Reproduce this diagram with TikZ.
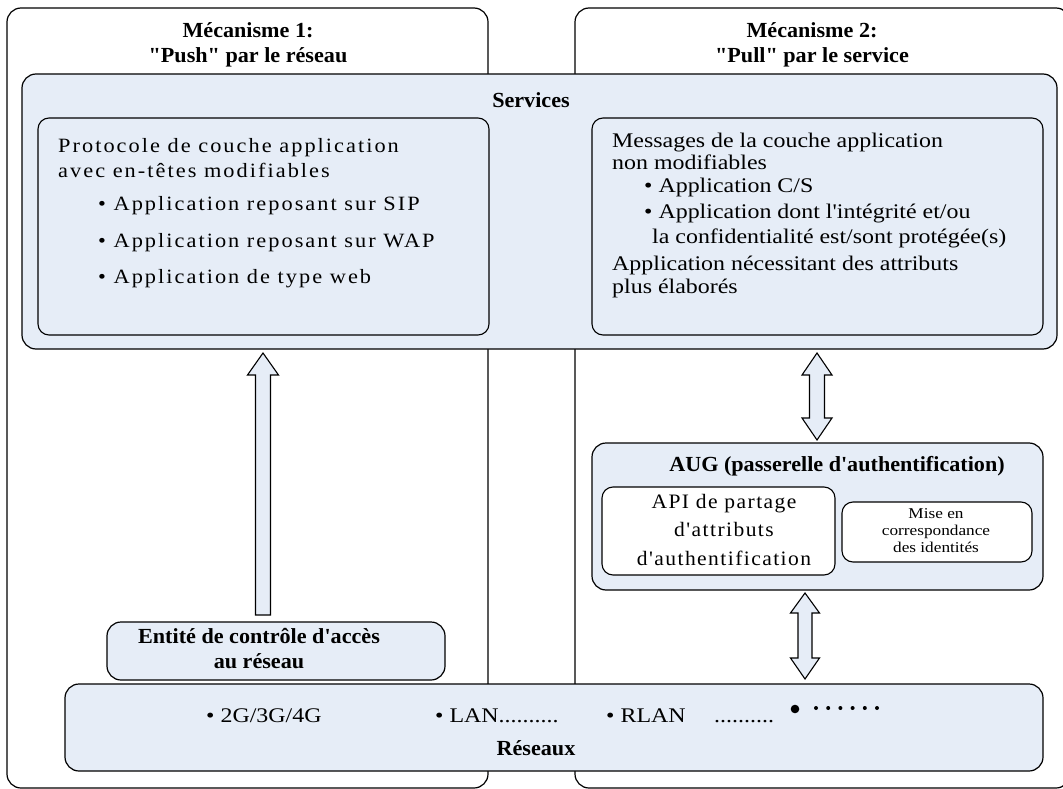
\documentclass[tikz,border=0pt]{standalone}
\usepackage{fontspec}
\newfontfamily\tnr{Liberation Serif}[FakeStretch=1.15]
\newfontfamily\tnrsp{Liberation Serif}[FakeStretch=1.1,LetterSpace=10]
\newfontfamily\tnrapi{Liberation Serif}[FakeStretch=1.05,LetterSpace=7]
\newfontfamily\tnrb{Liberation Serif}[FakeStretch=1.03]
\usetikzlibrary{calc}
\definecolor{lb}{HTML}{E6EDF7}
\begin{document}
\begin{tikzpicture}[x=1pt,y=-1pt,
  box/.style={draw=black, line width=1.2pt, rounded corners=14pt, inner sep=0pt},
  ibox/.style={draw=black, line width=1.1pt, rounded corners=11pt, inner sep=0pt},
  fatarrow/.style={draw=black, line width=1.1pt, fill=lb, line join=miter},
  body/.style={inner sep=0pt, anchor=base west, font=\fontsize{20.8}{24}\tnr},
  bodysp/.style={inner sep=0pt, anchor=base west, font=\fontsize{20.3}{24}\tnrsp},
  title/.style={inner sep=0pt, anchor=base, font=\fontsize{21.5}{24}\tnrb\bfseries},
  apitxt/.style={inner sep=0pt, anchor=base, font=\fontsize{20.5}{24}\tnrapi},
  misetxt/.style={inner sep=0pt, anchor=base, font=\fontsize{15}{17}\tnr},
]
\useasboundingbox (0,0) rectangle (1063,789);
% mechanism frames
\node[box, minimum width=481pt, minimum height=780pt] (mech1) at (247.5,398) {};
\node[box, minimum width=495pt, minimum height=780pt] (mech2) at (822.5,398) {};
\node[title] (m1a) at (248,38) {Mécanisme 1:};
\node[title] (m1b) at (248,63) {"Push" par le réseau};
\node[title] (m2a) at (812,38) {Mécanisme 2:};
\node[title] (m2b) at (812,63) {"Pull" par le service};
% services
\node[box, fill=lb, minimum width=1035pt, minimum height=275pt] (serv) at (539.5,211.5) {};
\node[title] (servt) at (531,108) {Services};
\node[ibox, fill=lb, minimum width=451pt, minimum height=217pt] (inL) at (263.5,226.5) {};
\node[ibox, fill=lb, minimum width=451pt, minimum height=217pt] (inR) at (817.5,226.5) {};
\node[bodysp] (l1) at (58,153) {Protocole de couche application};
\node[bodysp] (l2) at (58,178) {avec en-têtes modifiables};
\node[bodysp] (l3) at (98,210) {• Application reposant sur SIP};
\node[bodysp] (l4) at (98,247) {• Application reposant sur WAP};
\node[bodysp] (l5) at (98,283) {• Application de type web};
\node[body] (r1) at (612,147) {Messages de la couche application};
\node[body] (r2) at (612,169) {non modifiables};
\node[body] (r3) at (644,193) {• Application C/S};
\node[body] (r4) at (644,218) {• Application dont l'intégrité et/ou};
\node[body] (r5) at (652,243) {la confidentialité est/sont protégée(s)};
\node[body] (r6) at (612,270) {Application nécessitant des attributs};
\node[body] (r7) at (612,293) {plus élaborés};
% AUG
\node[box, fill=lb, minimum width=451pt, minimum height=147pt] (aug) at (817.5,516.5) {};
\node[title] (augt) at (837,471) {AUG (passerelle d'authentification)};
\node[ibox, fill=white, minimum width=233pt, minimum height=88pt] (api) at (718.5,531) {};
\node[apitxt] (api1) at (724,508) {API de partage};
\node[apitxt] (api2) at (724,536) {d'attributs};
\node[apitxt] (api3) at (724,565) {d'authentification};
\node[ibox, fill=white, minimum width=190pt, minimum height=60pt] (mise) at (937,532) {};
\node[misetxt] (mise1) at (936,518) {Mise en};
\node[misetxt] (mise2) at (936,535) {correspondance};
\node[misetxt] (mise3) at (936,552) {des identités};
% entity
\node[box, fill=lb, minimum width=338pt, minimum height=58pt] (ent) at (276,651) {};
\node[title] (ent1) at (259,643) {Entité de contrôle d'accès};
\node[title] (ent2) at (259,668) {au réseau};
% networks
\node[box, fill=lb, minimum width=978pt, minimum height=87pt] (res) at (554,727.5) {};
\node[body] (n1) at (206,722) {• 2G/3G/4G};
\node[body] (n2) at (435,722) {• LAN..........};
\node[body] (n3) at (606,722) {• RLAN};
\node[body] (n4) at (714,722) {..........};
\node[title] (rest) at (536,755) {Réseaux};
\fill (795,709) circle (4.3pt);
\foreach \i in {0,...,5} \fill (816+12.2*\i,708) circle (2pt);
% arrows
\draw[fatarrow] (263,353) -- (278.5,375) -- (270.5,375) -- (270.5,615) -- (255.5,615) -- (255.5,375) -- (247.5,375) -- cycle;
\draw[fatarrow] (817,353) -- (832,375) -- (824.5,375) -- (824.5,418) -- (832,418) -- (817,440)
  -- (802,418) -- (809.5,418) -- (809.5,375) -- (802,375) -- cycle;
\draw[fatarrow] (805,593) -- (819.5,613) -- (812,613) -- (812,658) -- (819.5,658) -- (805,679)
  -- (790.5,658) -- (798,658) -- (798,613) -- (790.5,613) -- cycle;
\end{tikzpicture}
\end{document}
